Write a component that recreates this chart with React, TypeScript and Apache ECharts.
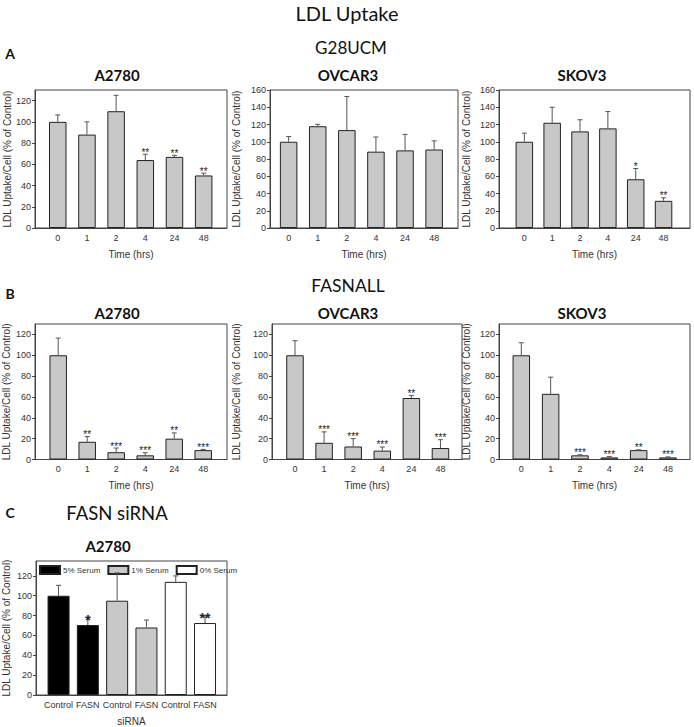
import React, { useEffect, useRef } from "react";
import * as echarts from "echarts";

// ---------- data ----------
const timeCategories = ["0", "1", "2", "4", "24", "48"];
const sirnaCategories = ["Control", "FASN", "Control", "FASN", "Control", "FASN"];
const yTicks130 = [0, 20, 40, 60, 80, 100, 120];
const yTicks160 = [0, 20, 40, 60, 80, 100, 120, 140, 160];

// G28UCM
const g28A2780 = [100, 88, 110, 64, 67, 49.5];
const g28A2780Err = [6.5, 12, 15, 5.5, 1.5, 2.2];
const g28A2780Sig = ["", "", "", "**", "**", "**"];

const g28Ovcar3 = [100, 118, 113.5, 88.5, 90, 91];
const g28Ovcar3Err = [6, 2.2, 39, 17, 18.5, 10];
const g28Ovcar3Sig = ["", "", "", "", "", ""];

const g28Skov3 = [100, 122, 112, 115.5, 56.5, 31.5];
const g28Skov3Err = [10, 18, 13.5, 19.5, 12.5, 3.5];
const g28Skov3Sig = ["", "", "", "", "*", "**"];

// FASNALL
const fasA2780 = [100, 17, 7, 4, 20, 9];
const fasA2780Err = [16.5, 5, 4, 2.5, 5.5, 0.7];
const fasA2780Sig = ["", "**", "***", "***", "**", "***"];

const fasOvcar3 = [100, 16, 12.5, 8.5, 59, 11];
const fasOvcar3Err = [14, 10.5, 7.5, 3.5, 2.5, 8];
const fasOvcar3Sig = ["", "***", "***", "***", "**", "***"];

const fasSkov3 = [100, 63, 4, 2, 9, 2];
const fasSkov3Err = [12, 16, 0.5, 0.8, 0.3, 0.5];
const fasSkov3Sig = ["", "", "***", "***", "**", "***"];

// FASN siRNA (A2780)
const serumNames = ["5% Serum", "1% Serum", "0% Serum"];
const serum5 = [100, 70.5];
const serum5Err = [10.5, 7.5];
const serum5Sig = ["", "*"];
const serum1 = [95, 68];
const serum1Err = [28, 7.5];
const serum1Sig = ["", ""];
const serum0 = [114, 72.5];
const serum0Err = [6, 7];
const serum0Sig = ["", "**"];

// ---------- styling ----------
const AX = "Liberation Sans";
const TITLE = "Lato";
const FRAME = "#444";
const TEXT = "#333";
const BAR_GRAY = "#c8c8c8";
const YNAME = "LDL Uptake/Cell (% of Control)";

type PanelSpec = {
  grid: { left: number; top: number; width: number; height: number };
  xMin: number;
  xMax: number;
  yMax: number;
  yTicks: number[];
  cats: string[];
  xName: string;
  nameGapY: number;
  barWidth: number;
  sigFont: string;
  sigOffset: number;
};

function errSeries(
  gi: number,
  values: number[],
  errs: number[],
  sigs: string[],
  spec: PanelSpec
) {
  return {
    type: "custom",
    xAxisIndex: gi,
    yAxisIndex: gi,
    z: 5,
    silent: true,
    data: values.map((v, i) => [i, v, errs[i]]),
    renderItem: (params: any, api: any) => {
      const x = api.value(0);
      const v = api.value(1);
      const e = api.value(2);
      const base = api.coord([x, v]);
      const top = api.coord([x, v + e]);
      const cap = 2.5;
      const ls = { stroke: "#555", lineWidth: 1 };
      const children: any[] = [
        { type: "line", shape: { x1: base[0], y1: base[1], x2: top[0], y2: top[1] }, style: ls },
        { type: "line", shape: { x1: top[0] - cap, y1: top[1], x2: top[0] + cap, y2: top[1] }, style: ls },
      ];
      const s = sigs[params.dataIndex];
      if (s) {
        children.push({
          type: "text",
          x: top[0],
          y: top[1] + spec.sigOffset,
          style: { text: s, font: spec.sigFont, fill: "#222", align: "center", verticalAlign: "bottom" },
        });
      }
      return { type: "group", children };
    },
  };
}

function axes(gi: number, spec: PanelSpec) {
  const xAxis = {
    type: "value",
    gridIndex: gi,
    min: spec.xMin,
    max: spec.xMax,
    axisLine: { show: true, onZero: false, lineStyle: { color: FRAME } },
    axisTick: { show: false },
    splitLine: { show: false },
    axisLabel: {
      customValues: spec.cats.map((_, i) => i),
      formatter: (v: number) => spec.cats[Math.round(v)] ?? "",
      fontSize: 9,
      fontFamily: AX,
      color: TEXT,
      margin: 5,
    },
    name: spec.xName,
    nameLocation: "middle",
    nameGap: 21,
    nameTextStyle: { fontSize: 10, fontFamily: AX, color: TEXT },
  };
  const yAxis = {
    type: "value",
    gridIndex: gi,
    min: 0,
    max: spec.yMax,
    interval: 20,
    axisLine: { show: true, onZero: false, lineStyle: { color: FRAME } },
    axisTick: { show: true, length: 3, customValues: spec.yTicks, lineStyle: { color: FRAME } },
    splitLine: { show: false },
    axisLabel: { customValues: spec.yTicks, fontSize: 9, fontFamily: AX, color: TEXT, margin: 4 },
    name: YNAME,
    nameLocation: "middle",
    nameGap: spec.nameGapY,
    nameTextStyle: { fontSize: 10, fontFamily: AX, color: TEXT },
  };
  const grid = {
    ...spec.grid,
    show: true,
    borderColor: FRAME,
    borderWidth: 1,
    backgroundColor: "transparent",
  };
  return { grid, xAxis, yAxis };
}

function timePanel(gi: number, spec: PanelSpec, values: number[], errs: number[], sigs: string[]) {
  const { grid, xAxis, yAxis } = axes(gi, spec);
  const series = [
    {
      type: "bar",
      xAxisIndex: gi,
      yAxisIndex: gi,
      barWidth: spec.barWidth,
      data: values.map((v, i) => [i, v]),
      itemStyle: { color: BAR_GRAY, borderColor: "#222", borderWidth: 1 },
      silent: true,
    },
    errSeries(gi, values, errs, sigs, spec),
  ];
  return { grid, xAxis, yAxis, series };
}

const smallSig = '10px "Liberation Sans"';

const A_H = 138;
const B_H = 135.5;
const specs: PanelSpec[] = [
  { grid: { left: 35, top: 90, width: 192, height: A_H }, xMin: -0.78, xMax: 5.8, yMax: 130, yTicks: yTicks130, cats: timeCategories, xName: "Time (hrs)", nameGapY: 23, barWidth: 17.5, sigFont: smallSig, sigOffset: 3 },
  { grid: { left: 270, top: 90, width: 188, height: A_H }, xMin: -0.64, xMax: 5.82, yMax: 160, yTicks: yTicks160, cats: timeCategories, xName: "Time (hrs)", nameGapY: 29, barWidth: 17.5, sigFont: smallSig, sigOffset: 3 },
  { grid: { left: 499, top: 90, width: 191, height: A_H }, xMin: -0.91, xMax: 5.95, yMax: 160, yTicks: yTicks160, cats: timeCategories, xName: "Time (hrs)", nameGapY: 28, barWidth: 17.5, sigFont: smallSig, sigOffset: 3 },
  { grid: { left: 35, top: 324, width: 192, height: B_H }, xMin: -0.8, xMax: 5.82, yMax: 130, yTicks: yTicks130, cats: timeCategories, xName: "Time (hrs)", nameGapY: 24, barWidth: 17.5, sigFont: smallSig, sigOffset: 3 },
  { grid: { left: 272, top: 324, width: 190, height: B_H }, xMin: -0.79, xMax: 5.74, yMax: 130, yTicks: yTicks130, cats: timeCategories, xName: "Time (hrs)", nameGapY: 31, barWidth: 17.5, sigFont: smallSig, sigOffset: 3 },
  { grid: { left: 499, top: 324, width: 191, height: B_H }, xMin: -0.76, xMax: 5.75, yMax: 130, yTicks: yTicks130, cats: timeCategories, xName: "Time (hrs)", nameGapY: 28, barWidth: 17.5, sigFont: smallSig, sigOffset: 3 },
];
const specC: PanelSpec = {
  grid: { left: 35, top: 561, width: 192, height: 137.5 },
  xMin: -0.77,
  xMax: 5.75,
  yMax: 135,
  yTicks: yTicks130,
  cats: sirnaCategories,
  xName: "siRNA",
  nameGapY: 25,
  barWidth: 22,
  sigFont: 'bold 14px "Liberation Sans"',
  sigOffset: 9,
};

function buildOption() {
  const grids: any[] = [];
  const xAxes: any[] = [];
  const yAxes: any[] = [];
  const series: any[] = [];
  const panels: [number[], number[], string[]][] = [
    [g28A2780, g28A2780Err, g28A2780Sig],
    [g28Ovcar3, g28Ovcar3Err, g28Ovcar3Sig],
    [g28Skov3, g28Skov3Err, g28Skov3Sig],
    [fasA2780, fasA2780Err, fasA2780Sig],
    [fasOvcar3, fasOvcar3Err, fasOvcar3Sig],
    [fasSkov3, fasSkov3Err, fasSkov3Sig],
  ];
  panels.forEach(([v, e, s], gi) => {
    const p = timePanel(gi, specs[gi], v, e, s);
    grids.push(p.grid);
    xAxes.push(p.xAxis);
    yAxes.push(p.yAxis);
    series.push(...p.series);
  });

  // Panel C
  const gi = 6;
  const c = axes(gi, specC);
  grids.push(c.grid);
  xAxes.push(c.xAxis);
  yAxes.push(c.yAxis);
  const serumVals = [serum5, serum1, serum0];
  const serumColors = ["#000000", BAR_GRAY, "#ffffff"];
  serumVals.forEach((vals, k) => {
    series.push({
      type: "bar",
      name: serumNames[k],
      xAxisIndex: gi,
      yAxisIndex: gi,
      barWidth: specC.barWidth,
      barGap: "-100%",
      data: vals.map((v, i) => [k * 2 + i, v]),
      itemStyle: { color: serumColors[k], borderColor: "#222", borderWidth: 1 },
      silent: true,
    });
  });
  series.push(
    errSeries(
      gi,
      [...serum5, ...serum1, ...serum0],
      [...serum5Err, ...serum1Err, ...serum0Err],
      [...serum5Sig, ...serum1Sig, ...serum0Sig],
      specC
    )
  );

  const t = (text: string, x: number, y: number, font: string) => ({
    type: "text",
    x,
    y,
    style: { text, font, fill: "#111", align: "center", verticalAlign: "middle" },
  });

  const graphic = [
    t("LDL Uptake", 347, 13, `20px ${TITLE}`),
    t("A", 10, 53, `bold 14px ${TITLE}`),
    t("G28UCM", 351, 47, `17px ${TITLE}`),
    t("A2780", 117, 75, `bold 15px ${TITLE}`),
    t("OVCAR3", 348, 75, `bold 15px ${TITLE}`),
    t("SKOV3", 582, 75, `bold 15px ${TITLE}`),
    t("B", 10, 293, `bold 14px ${TITLE}`),
    t("FASNALL", 348, 285, `17.5px ${TITLE}`),
    t("A2780", 117, 313, `bold 15px ${TITLE}`),
    t("OVCAR3", 348, 313, `bold 15px ${TITLE}`),
    t("SKOV3", 582, 313, `bold 15px ${TITLE}`),
    t("C", 10, 512, `bold 14px ${TITLE}`),
    t("FASN siRNA", 117, 513, `18.5px ${TITLE}`),
    t("A2780", 108, 546, `bold 15px ${TITLE}`),
  ];

  return {
    animation: false,
    backgroundColor: "#ffffff",
    grid: grids,
    xAxis: xAxes,
    yAxis: yAxes,
    series,
    legend: {
      data: serumNames,
      left: 39,
      top: 565,
      itemWidth: 20,
      itemHeight: 8,
      itemGap: 7,
      icon: "rect",
      padding: 0,
      textStyle: { fontSize: 8, fontFamily: AX, color: TEXT, padding: [0, 0, 0, -2] },
      selectedMode: false,
    },
    graphic,
  };
}

export default function App() {
  const ref = useRef<HTMLDivElement>(null);
  useEffect(() => {
    if (!ref.current) return;
    const chart = echarts.init(ref.current, undefined, { renderer: "svg" });
    chart.setOption(buildOption() as any);
    return () => chart.dispose();
  }, []);
  return (
    <div
      ref={ref}
      style={{ position: "absolute", left: 0, top: 0, width: 694, height: 727, background: "#fff" }}
    />
  );
}
